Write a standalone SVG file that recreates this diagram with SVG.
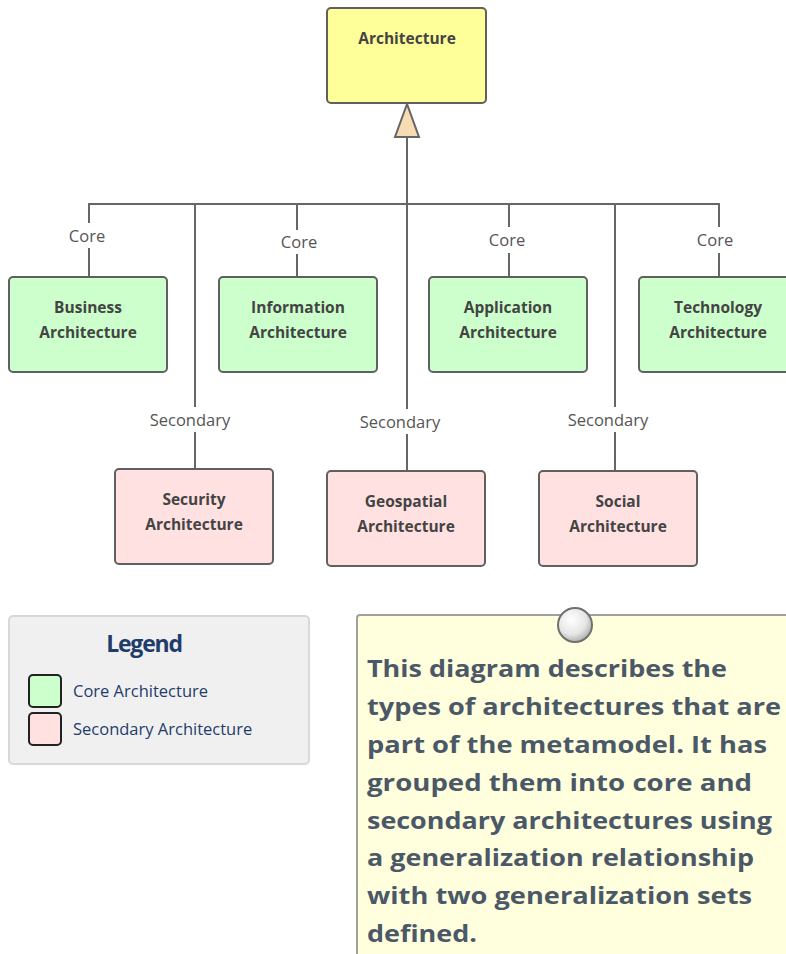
<svg xmlns="http://www.w3.org/2000/svg" width="786" height="954" viewBox="0 0 786 954">
<style>
.node rect{stroke:#606060;stroke-width:2}
.core rect{fill:#ccffcc}
.sec rect{fill:#ffe1e1}
.nt{font-family:"Open Sans","Liberation Sans",sans-serif;font-weight:700;font-size:15.5px;fill:#444;text-anchor:middle}
.lbl{font-family:"Open Sans","Liberation Sans",sans-serif;font-size:16.5px;fill:#555;text-anchor:middle}
.conn line,.conn path{stroke:#666;stroke-width:2;fill:none}
.lg{font-family:"Open Sans","Liberation Sans",sans-serif;font-size:16.5px;fill:#1f3d6b}
.note{font-family:"Open Sans","Liberation Sans",sans-serif;font-weight:700;font-size:23px;fill:#4b5868}
</style>
<defs>
<radialGradient id="pin" cx="0.4" cy="0.35" r="0.7">
<stop offset="0" stop-color="#ffffff"/>
<stop offset="0.6" stop-color="#e6e6e6"/>
<stop offset="1" stop-color="#a8a8a8"/>
</radialGradient>
</defs>
<rect width="786" height="954" fill="#ffffff"/>

<g id="connectors" class="conn">
<polygon points="407,104 395,137 419,137" fill="#f7dbb2" stroke="#666" stroke-width="2"/>
<line x1="407" y1="137" x2="407" y2="409"/>
<line x1="407" y1="434" x2="407" y2="471"/>
<line x1="89" y1="204" x2="719" y2="204"/>
<line x1="89" y1="203" x2="89" y2="223"/>
<line x1="89" y1="248" x2="89" y2="277"/>
<line x1="297" y1="204" x2="297" y2="230"/>
<line x1="297" y1="254" x2="297" y2="277"/>
<line x1="509" y1="204" x2="509" y2="227"/>
<line x1="509" y1="253" x2="509" y2="277"/>
<line x1="719" y1="203" x2="719" y2="227"/>
<line x1="719" y1="253" x2="719" y2="277"/>
<line x1="195" y1="204" x2="195" y2="407"/>
<line x1="195" y1="432" x2="195" y2="469"/>
<line x1="615" y1="204" x2="615" y2="407"/>
<line x1="615" y1="432" x2="615" y2="471"/>
<text class="lbl" x="87" y="242">Core</text>
<text class="lbl" x="299" y="248">Core</text>
<text class="lbl" x="507" y="246">Core</text>
<text class="lbl" x="715" y="246">Core</text>
<text class="lbl" x="190" y="426">Secondary</text>
<text class="lbl" x="400" y="428">Secondary</text>
<text class="lbl" x="608" y="426">Secondary</text>
</g>

<g id="architecture" class="node">
<rect x="327" y="8" width="159" height="95" rx="4" fill="#ffff99"/>
<text class="nt" x="407" y="44">Architecture</text>
</g>

<g id="business" class="node core">
<rect x="9" y="277" width="158" height="95" rx="4"/>
<text class="nt" x="88" y="313">Business</text>
<text class="nt" x="88" y="338">Architecture</text>
</g>
<g id="information" class="node core">
<rect x="219" y="277" width="158" height="95" rx="4"/>
<text class="nt" x="298" y="313">Information</text>
<text class="nt" x="298" y="338">Architecture</text>
</g>
<g id="application" class="node core">
<rect x="429" y="277" width="158" height="95" rx="4"/>
<text class="nt" x="508" y="313">Application</text>
<text class="nt" x="508" y="338">Architecture</text>
</g>
<g id="technology" class="node core">
<rect x="639" y="277" width="158" height="95" rx="4"/>
<text class="nt" x="718" y="313">Technology</text>
<text class="nt" x="718" y="338">Architecture</text>
</g>

<g id="security" class="node sec">
<rect x="115" y="469" width="158" height="95" rx="4"/>
<text class="nt" x="194" y="505">Security</text>
<text class="nt" x="194" y="530">Architecture</text>
</g>
<g id="geospatial" class="node sec">
<rect x="327" y="471" width="158" height="95" rx="4"/>
<text class="nt" x="406" y="507">Geospatial</text>
<text class="nt" x="406" y="532">Architecture</text>
</g>
<g id="social" class="node sec">
<rect x="539" y="471" width="158" height="95" rx="4"/>
<text class="nt" x="618" y="507">Social</text>
<text class="nt" x="618" y="532">Architecture</text>
</g>

<g id="legend">
<rect x="9" y="616" width="300" height="148" rx="4" fill="#f0f0f0" stroke="#d8d8d8" stroke-width="2"/>
<text x="144" y="652" font-family="'Open Sans','Liberation Sans',sans-serif" font-weight="700" font-size="23" fill="#1f3d6b" text-anchor="middle" letter-spacing="-1.2">Legend</text>
<rect x="29" y="675" width="32" height="32" rx="4" fill="#ccffcc" stroke="#222" stroke-width="2"/>
<rect x="29" y="713" width="32" height="32" rx="4" fill="#ffe1e1" stroke="#222" stroke-width="2"/>
<text class="lg" x="73" y="697">Core Architecture</text>
<text class="lg" x="73" y="735">Secondary Architecture</text>
</g>

<g id="note">
<rect x="357" y="615" width="460" height="360" rx="3" fill="#ffffdd" stroke="#a0a0a0" stroke-width="2"/>
<circle cx="575" cy="625" r="17" fill="url(#pin)" stroke="#707070" stroke-width="2"/>
<text class="note" x="367" y="677" textLength="360" lengthAdjust="spacingAndGlyphs">This diagram describes the</text>
<text class="note" x="367" y="715" textLength="414" lengthAdjust="spacingAndGlyphs">types of architectures that are</text>
<text class="note" x="367" y="753" textLength="400" lengthAdjust="spacingAndGlyphs">part of the metamodel. It has</text>
<text class="note" x="367" y="791" textLength="385" lengthAdjust="spacingAndGlyphs">grouped them into core and</text>
<text class="note" x="367" y="829" textLength="405" lengthAdjust="spacingAndGlyphs">secondary architectures using</text>
<text class="note" x="367" y="866" textLength="387" lengthAdjust="spacingAndGlyphs">a generalization relationship</text>
<text class="note" x="367" y="904" textLength="385" lengthAdjust="spacingAndGlyphs">with two generalization sets</text>
<text class="note" x="367" y="942" textLength="110" lengthAdjust="spacingAndGlyphs">defined.</text>
</g>
</svg>
